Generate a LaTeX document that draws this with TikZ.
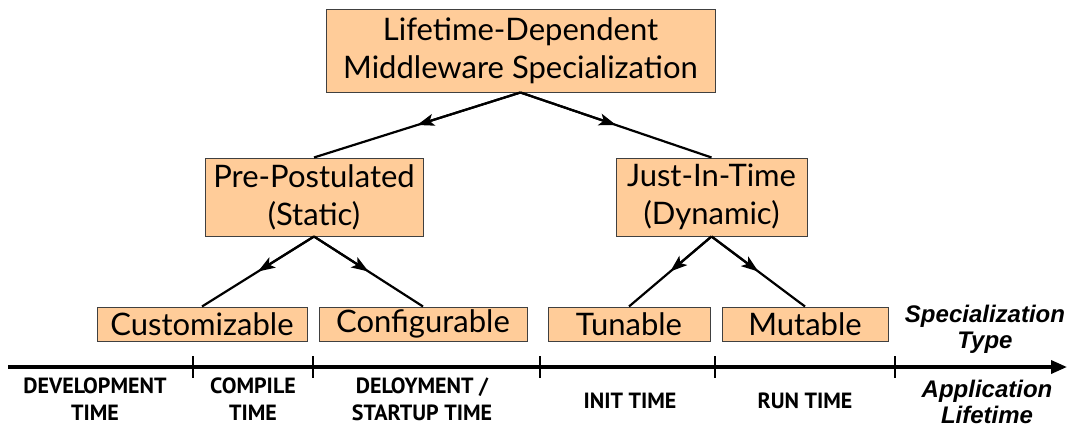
\documentclass[tikz,border=0pt]{standalone}
\usepackage{fontspec}
\newfontfamily\boxfont{Lato}
\newfontfamily\tlfont{PT Sans}
\newfontfamily\axfont{Liberation Sans}
\usetikzlibrary{arrows.meta,calc}
\definecolor{peach}{HTML}{FFCC99}
\definecolor{boxline}{HTML}{404040}
\tikzset{
  specbox/.style={draw=boxline, line width=1pt, fill=peach, inner sep=0pt, align=center,
    font=\boxfont\fontsize{31}{38}\selectfont},
  link/.style={line width=2.2pt, black},
  midarrow/.style={line width=2.2pt, -{Stealth[length=17pt,width=12pt,inset=4pt]}},
  tick/.style={line width=1.6pt},
  tllabel/.style={font=\tlfont\bfseries\fontsize{22}{27}\selectfont, align=center, inner sep=0pt},
  axlabel/.style={font=\axfont\bfseries\itshape\fontsize{24}{26}\selectfont, align=center, inner sep=0pt}
}
\begin{document}
\begin{tikzpicture}[x=1pt,y=-1pt]
\useasboundingbox (0,0) rectangle (1073,428);
% boxes
\node[specbox, minimum width=389pt, minimum height=82pt] (top) at (520.5,51) {Lifetime-Dependent\\Middleware Specialization};
\node[specbox, minimum width=218pt, minimum height=78pt] (pre) at (314,197) {Pre-Postulated\\(Static)};
\node[specbox, minimum width=191pt, minimum height=78pt] (jit) at (711.5,197) {Just-In-Time\\(Dynamic)};
\node[specbox, minimum width=210pt, minimum height=34pt] (cus) at (202,324) {Customizable};
\node[specbox, minimum width=208pt, minimum height=34pt] (con) at (423,324) {Configurable};
\node[specbox, minimum width=162pt, minimum height=34pt] (tun) at (629,324) {Tunable};
\node[specbox, minimum width=166pt, minimum height=34pt] (mut) at (805,324) {Mutable};
% connectors with arrowheads mid-way
\foreach \a/\b in {top/pre, top/jit, pre/cus, pre/con, jit/tun, jit/mut}{
  \draw[link] (\a.south) -- (\b.north);
  \draw[midarrow] (\a.south) -- ($(\a.south)!0.5!(\b.north)$);
}
% timeline
\coordinate (tl0) at (8,367);
\coordinate (tl1) at (1067,367);
\draw[line width=3.5pt, -{Triangle[length=16pt,width=13pt]}] (tl0) -- (tl1);
\foreach \n/\x in {k1/193, k2/313, k3/540, k4/715, k5/895}{
  \coordinate (\n a) at (\x,356);
  \coordinate (\n b) at (\x,378);
  \draw[tick] (\n a) -- (\n b);
}
% timeline labels
\node[tllabel] (dev) at (95,399) {DEVELOPMENT\\TIME};
\node[tllabel] (comp) at (253,399) {COMPILE\\TIME};
\node[tllabel] (dep) at (422,399) {DELOYMENT /\\STARTUP TIME};
\node[tllabel] (init) at (630,401) {INIT TIME};
\node[tllabel] (run) at (805,401) {RUN TIME};
\node[axlabel] (spec) at (985,329) {Specialization\\Type};
\node[axlabel] (app) at (987,402) {Application\\Lifetime};
\end{tikzpicture}
\end{document}
